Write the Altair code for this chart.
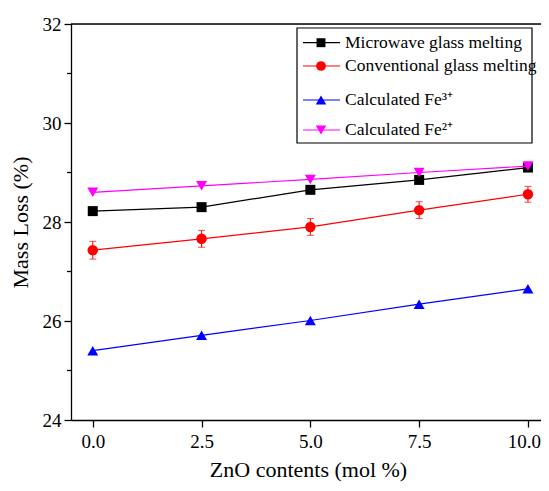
import altair as alt
import pandas as pd

# ---- data ----
zno = [0.0, 2.5, 5.0, 7.5, 10.0]
microwave = [28.22, 28.30, 28.65, 28.85, 29.10]
conventional = [27.43, 27.66, 27.90, 28.24, 28.56]
conventional_err = [0.18, 0.17, 0.17, 0.17, 0.16]
fe3 = [25.40, 25.71, 26.01, 26.34, 26.65]
fe2 = [28.60, 28.73, 28.86, 29.00, 29.13]

series_names = ["Microwave glass melting", "Conventional glass melting",
                "Calculated Fe³⁺", "Calculated Fe²⁺"]
series_colors = ["#000000", "#FF0000", "#0000FF", "#FF00FF"]
series_shapes = ["square", "circle", "triangle-up", "triangle-down"]
series_values = [microwave, conventional, fe3, fe2]

y_major = [24, 26, 28, 30, 32]
y_minor = [25, 27, 29, 31]
x_ticks = [0.0, 2.5, 5.0, 7.5, 10.0]

FONT = "'Times New Roman', 'Liberation Serif', Times, serif"
W, H = 470, 396

xscale = alt.Scale(domain=[-0.5, 10.3], nice=False, zero=False)
yscale = alt.Scale(domain=[24, 32], nice=False, zero=False)

xaxis = alt.Axis(values=x_ticks, format=".1f", title="ZnO contents (mol %)",
                 grid=False, tickSize=7, labelPadding=5, titlePadding=8,
                 labelOffset={"condition": {"test": "datum.value >= 10", "value": -4},
                              "value": 0},
                 domainColor="black", tickColor="black", labelColor="black",
                 titleColor="black", labelFontSize=19, titleFontSize=22,
                 labelFont=FONT, titleFont=FONT, titleFontWeight="normal",
                 domainWidth=1.3, tickWidth=1.3, titleX=237)
yaxis = alt.Axis(values=y_major, format="d", title="Mass Loss (%)",
                 grid=False, tickSize=7, labelPadding=3, titlePadding=10,
                 domainColor="black", tickColor="black", labelColor="black",
                 titleColor="black", labelFontSize=19, titleFontSize=22,
                 labelFont=FONT, titleFont=FONT, titleFontWeight="normal",
                 domainWidth=1.3, tickWidth=1.3)


def X(field):
    return alt.X(field, scale=xscale, axis=xaxis)


def Y(field):
    return alt.Y(field, scale=yscale, axis=yaxis)


rows = []
for name, vals in zip(series_names, series_values):
    for x, v in zip(zno, vals):
        rows.append({"series": name, "x": x, "y": v})
df = pd.DataFrame(rows)

err_df = pd.DataFrame({
    "x": zno,
    "lo": [v - e for v, e in zip(conventional, conventional_err)],
    "hi": [v + e for v, e in zip(conventional, conventional_err)],
})

layers = []

# minor y ticks
minor_df = pd.DataFrame({"y": y_minor})
layers.append(alt.Chart(minor_df).mark_rule(color="black", strokeWidth=1.3).encode(
    y=Y("y:Q"), x=alt.value(-4), x2=alt.value(0)))

# top border
layers.append(alt.Chart(pd.DataFrame({"a": [0]})).mark_rule(color="black", strokeWidth=1.3).encode(
    x=alt.value(0), x2=alt.value(W), y=alt.value(0)))

# error bars
layers.append(alt.Chart(err_df).mark_rule(color="#FF0000", strokeWidth=1).encode(
    x=X("x:Q"), y=Y("lo:Q"), y2="hi:Q"))
for col in ["lo", "hi"]:
    layers.append(alt.Chart(err_df).mark_tick(color="#FF0000", size=7, thickness=1,
                                              orient="horizontal").encode(
        x=X("x:Q"), y=Y(f"{col}:Q")))

for name, color, shape in zip(series_names, series_colors, series_shapes):
    sub = df[df["series"] == name]
    layers.append(alt.Chart(sub).mark_line(color=color, strokeWidth=1.2).encode(
        x=X("x:Q"), y=Y("y:Q")))
    size = 100 if shape == "square" else (110 if shape == "circle" else 120)
    layers.append(alt.Chart(sub).mark_point(color=color, shape=shape, filled=True,
                                            opacity=1, size=size).encode(
        x=X("x:Q"), y=Y("y:Q")))

# ---- legend (manual) ----
one = pd.DataFrame({"a": [0]})
layers.append(alt.Chart(one).mark_rect(fill="white", stroke="black", strokeWidth=1.2).encode(
    x=alt.value(226), x2=alt.value(461), y=alt.value(4), y2=alt.value(119)))
legend_y = [18.7, 42, 76, 106]
for name, color, shape, yy in zip(series_names, series_colors, series_shapes, legend_y):
    layers.append(alt.Chart(one).mark_rule(color=color, strokeWidth=1.2).encode(
        x=alt.value(232), x2=alt.value(269), y=alt.value(yy)))
    size = 80 if shape == "square" else (95 if shape == "circle" else 110)
    layers.append(alt.Chart(one).mark_point(color=color, shape=shape, filled=True,
                                            opacity=1, size=size).encode(
        x=alt.value(250), y=alt.value(yy)))
    layers.append(alt.Chart(one).mark_text(text=name, font=FONT, fontSize=17.5, color="black",
                                           align="left", baseline="middle").encode(
        x=alt.value(274), y=alt.value(yy)))

chart = alt.layer(*layers).properties(
    width=W, height=H,
    autosize=alt.AutoSizeParams(type="none"),
    padding={"left": 63, "top": 16, "right": 0, "bottom": 63},
).configure_view(stroke=None).configure(background="white")

chart.save("out.html", embed_options={"renderer": "svg", "actions": False})
